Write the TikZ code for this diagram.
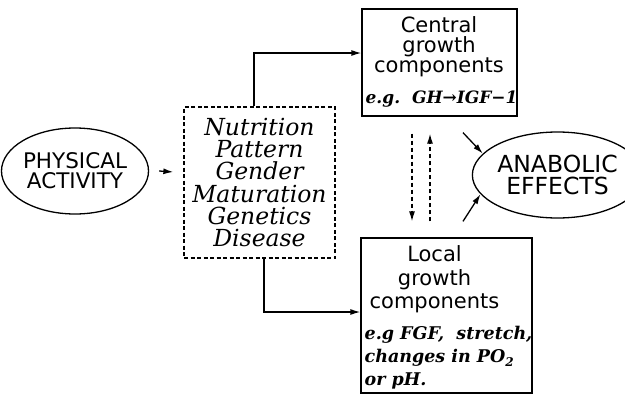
\documentclass[tikz,border=0pt]{standalone}
\usepackage{fontspec}
\setmainfont{DejaVu Serif}
\setsansfont{DejaVu Sans}
\usetikzlibrary{arrows.meta,shapes.geometric}

\tikzset{
	bubble/.style={draw, ellipse, inner sep=0pt, align=center,
			minimum height=86pt, font=\sffamily\fontsize{21.5}{20}\selectfont},
	growthbox/.style={draw, rectangle, inner sep=0pt},
	title/.style={anchor=north, inner sep=0pt, align=center},
	example/.style={inner sep=0pt, align=left,
			font=\bfseries\itshape\fontsize{17.5}{23}\selectfont}
}

\begin{document}
\begin{tikzpicture}[x=1pt,y=-1pt, line width=1.3pt,
		>={Latex[length=10pt,width=6pt]}
	]
	\useasboundingbox (0,0) rectangle (625,394);

	\node[bubble, minimum width=123pt] (activity) at (75,171) {PHYSICAL\\ACTIVITY};
	\node[bubble, minimum width=131pt, font=\sffamily\fontsize{23.5}{21.5}\selectfont]
		(anabolic) at (557.5,175) {ANABOLIC\\EFFECTS};

	% modifying factors
	\node[draw, dash pattern=on 4pt off 2.5pt, minimum width=151pt, minimum height=151pt,
		inner sep=0pt, align=center, font=\itshape\fontsize{23.5}{22.2}\selectfont]
		(factors) at (259.5,182.5)
		{Nutrition\\Pattern\\Gender\\Maturation\\Genetics\\Disease};

	% central growth
	\node[growthbox, minimum width=155pt, minimum height=107pt] (central) at (439.5,62.5) {};
	\node[title, font=\sffamily\fontsize{21}{20}\selectfont] (centraltitle) at (439,16)
		{Central\\growth\\components};
	\node[example, anchor=base west, font=\bfseries\itshape\fontsize{17}{23}\selectfont]
		(centralex) at (365,103) {e.g.\ \ GH→IGF−1};

	% local growth
	\node[growthbox, minimum width=171pt, minimum height=155pt] (local) at (446.5,315.5) {};
	\node[title, font=\sffamily\fontsize{21}{23.5}\selectfont] (localtitle) at (434.5,245)
		{Local\\growth\\components};
	\node[example, anchor=north west] (localex) at (364,325.5)
		{e.g FGF,\ \ stretch,\\changes in PO\raisebox{-4pt}{\fontsize{12}{12}\selectfont 2}\\or pH.};

	\draw[->] ([xshift=10pt]activity.east) -- ([shift={(-10pt,10.5pt)}]factors.west);
	\draw[->] ([xshift=-5.5pt]factors.north) |- ([yshift=9.5pt]central.west);
	\draw[->] ([xshift=4.5pt]factors.south) |- ([yshift=3.5pt]local.west);

	\draw[->, dash pattern=on 4pt off 3pt] ([shift={(-27.5pt,-17pt)}]central.south) -- ([shift={(-34.5pt,16pt)}]local.north);
	\draw[->, dash pattern=on 4pt off 3pt] ([shift={(-16.5pt,16pt)}]local.north) -- ([shift={(-9.5pt,-17pt)}]central.south);

	\draw[->] ([shift={(23.5pt,-16pt)}]central.south) -- (anabolic.164);
	\draw[->] ([shift={(16.5pt,16pt)}]local.north) -- (anabolic.194);
\end{tikzpicture}
\end{document}
